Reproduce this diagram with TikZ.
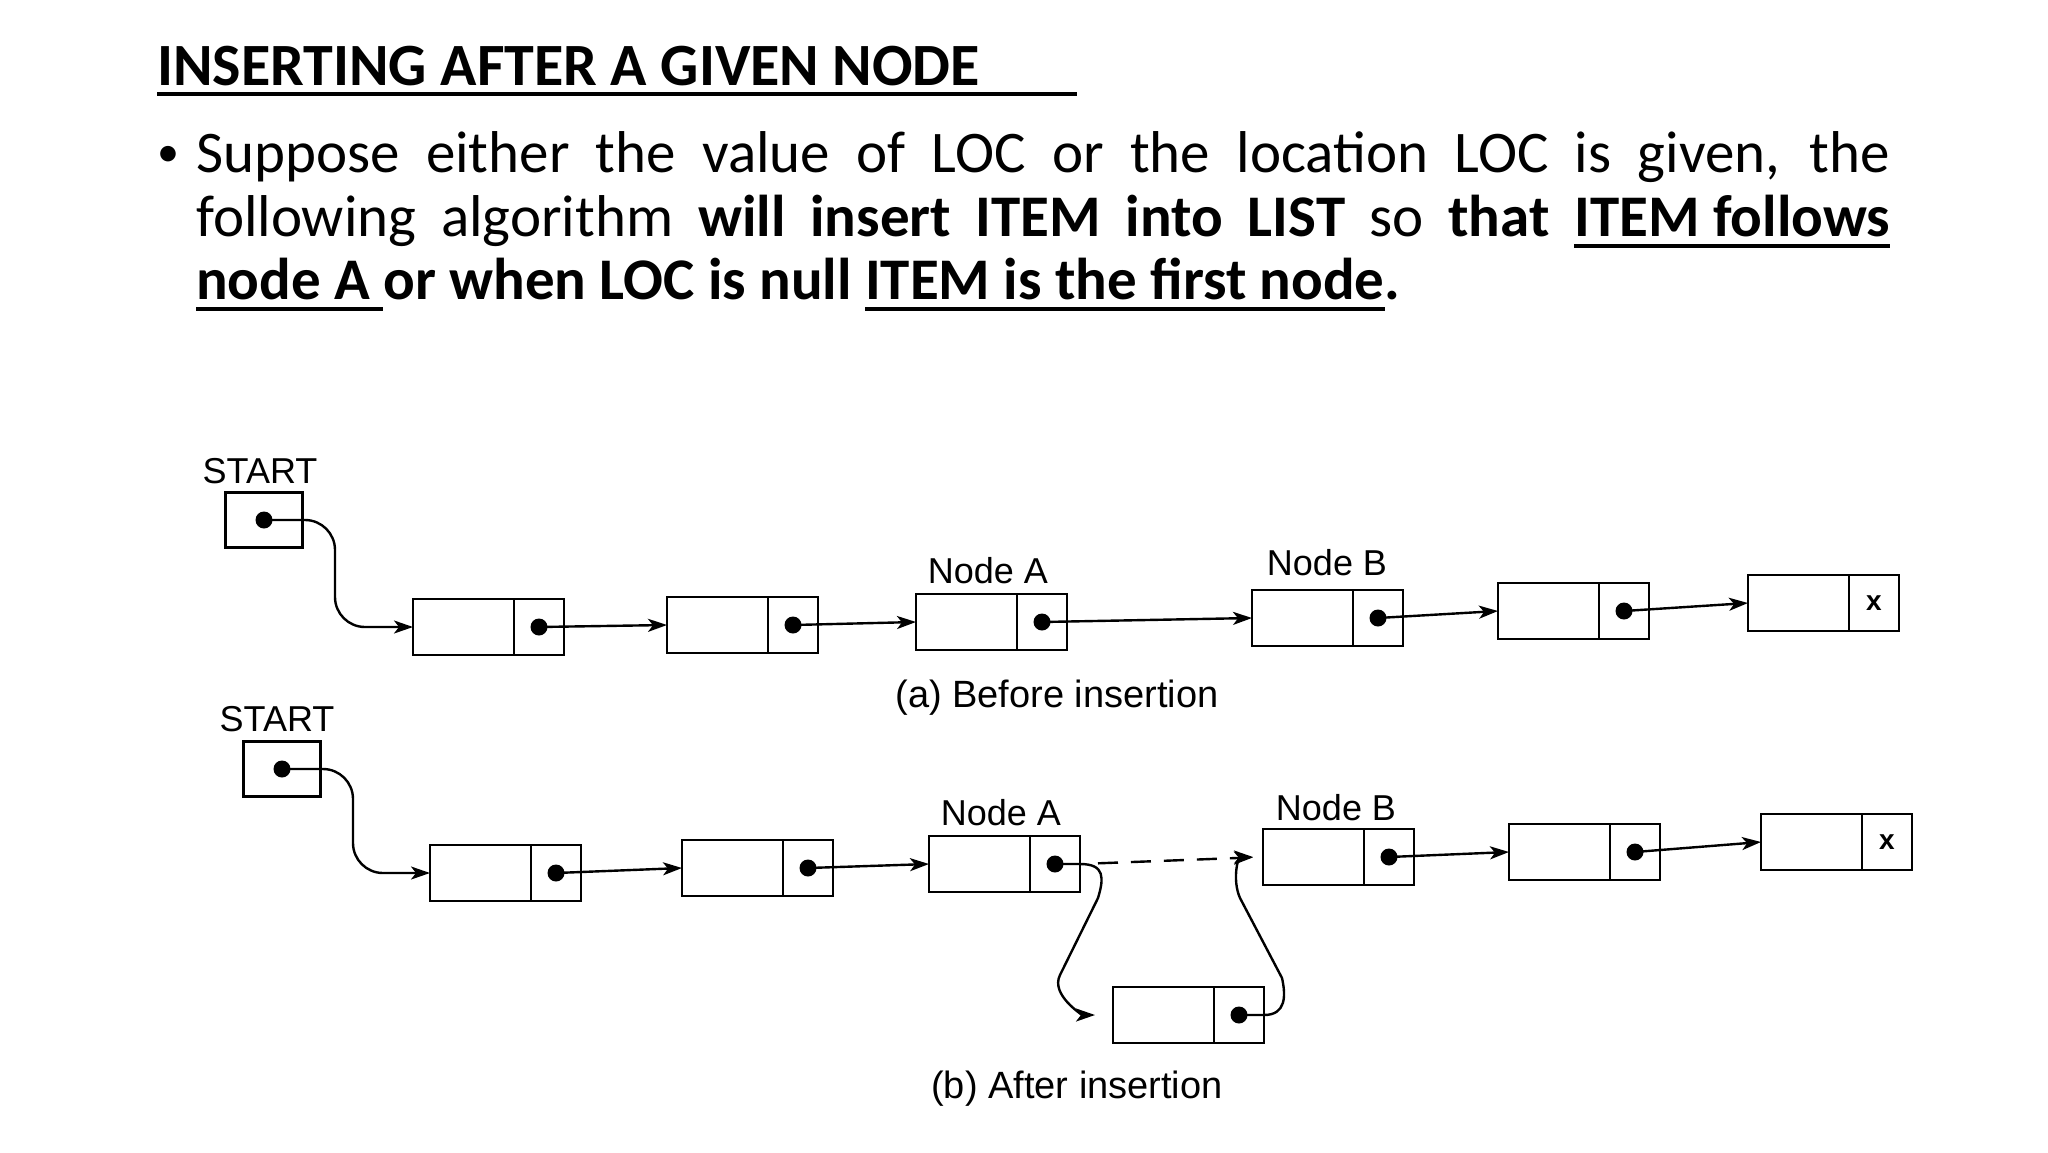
\documentclass[tikz,border=0pt]{standalone}
\usepackage{fontspec}
\setmainfont{Carlito}
\newfontfamily\diafont{Liberation Sans}
\usetikzlibrary{arrows.meta}
\newsavebox\ulbox
\newcommand\myul[1]{\sbox\ulbox{#1}\rlap{\rule[-11.5pt]{\wd\ulbox}{3.5pt}}\usebox\ulbox}
\newcommand\listnode[3]{%
  \node[databox] (#1) at (#2,#3) {};
  \node[ptrbox] (#1p) at (#1.east) {};}
\begin{document}
\begin{tikzpicture}[x=1pt,y=-1pt,
  databox/.style={draw, line width=2.9pt, minimum width=101pt, minimum height=56pt, inner sep=0pt, outer sep=0pt, anchor=west},
  ptrbox/.style={draw, line width=2.9pt, minimum width=50pt, minimum height=56pt, inner sep=0pt, outer sep=0pt, anchor=west},
  startbox/.style={draw, line width=2.9pt, minimum width=77pt, minimum height=55pt, inner sep=0pt, outer sep=0pt},
  dotn/.style={circle, fill=black, inner sep=0pt, minimum size=17pt},
  nullx/.style={font=\diafont\bfseries\fontsize{28}{28}\selectfont, inner sep=0pt},
  link/.style={line width=2.4pt, -{Stealth[length=19pt,width=13pt,inset=5pt]}},
  lbl/.style={font=\diafont\fontsize{36}{36}\selectfont, inner sep=0pt, anchor=base},
  captxt/.style={font=\diafont\fontsize{38}{38}\selectfont, inner sep=0pt, anchor=base},
  txt/.style={font=\fontsize{59}{59}\selectfont, inner sep=0pt, anchor=base west}
]
\fill[white] (0,0) rectangle (2048,1152);
\useasboundingbox (0,0) rectangle (2048,1152);

% ---- text ----
\node[txt, font=\bfseries\fontsize{60}{60}\selectfont] (title) at (157,85)
  {\rlap{\rule[-10.75pt]{920pt}{3.5pt}}INSERTING AFTER A GIVEN NODE};
\node[txt, anchor=base, font=\fontsize{44}{44}\selectfont] (bullet) at (168,166) {•};
\node[txt] (l1) at (196,172)
  {\hbox to 1694pt{Suppose either the value of LOC or the location LOC is given, the}};
\node[txt] (l2) at (196,236)
  {\hbox to 1694pt{following algorithm \textbf{will insert ITEM into LIST} so \textbf{that} \textbf{\myul{ITEM follows}}}};
\node[txt] (l3) at (196,299)
  {\textbf{\myul{node A }or when LOC is null \myul{ITEM is the first node}.}};

% ---- (a) before insertion ----
\node[lbl] (starta) at (260,483) {START};
\node[startbox] (s1) at (264,520) {};
\node[dotn] (s1d) at (s1.center) {};
\listnode{a1}{413}{627}
\listnode{a2}{667}{625}
\listnode{aA}{916}{622}
\listnode{aB}{1252}{618}
\listnode{a5}{1498}{611}
\listnode{a6}{1748}{603}
\foreach \n in {a1,a2,aA,aB,a5} {\node[dotn] (\n d) at (\n p.center) {};}
\node[nullx] (a6x) at (a6p.center) {x};
\node[lbl] (labAa) at (988,583) {Node A};
\node[lbl] (labBa) at (1327,575) {Node B};
\node[captxt] (capa) at (1057,707) {(a) Before insertion};

\draw[link, rounded corners=30pt] (s1d.center) -| ([xshift=-78pt]a1.west) -- (a1.west);
\draw[link] (a1d.center) -- (a2.west);
\draw[link] (a2d.center) -- (aA.west);
\draw[link] (aAd.center) -- (aB.west);
\draw[link] (aBd.center) -- (a5.west);
\draw[link] (a5d.center) -- (a6.west);

% ---- (b) after insertion ----
\node[lbl] (startb) at (277,731) {START};
\node[startbox] (s2) at (282,769) {};
\node[dotn] (s2d) at (s2.center) {};
\listnode{b1}{430}{873}
\listnode{b2}{682}{868}
\listnode{bA}{929}{864}
\listnode{bB}{1263}{857}
\listnode{b5}{1509}{852}
\listnode{b6}{1761}{842}
\listnode{bN}{1113}{1015}
\foreach \n in {b1,b2,bA,bB,b5,bN} {\node[dotn] (\n d) at (\n p.center) {};}
\node[nullx] (b6x) at (b6p.center) {x};
\node[lbl] (labAb) at (1001,825) {Node A};
\node[lbl] (labBb) at (1336,820) {Node B};
\node[captxt] (capb) at (1077,1098) {(b) After insertion};

\draw[link, rounded corners=30pt] (s2d.center) -| ([xshift=-77pt]b1.west) -- (b1.west);
\draw[link] (b1d.center) -- (b2.west);
\draw[link] (b2d.center) -- (bA.west);
\draw[link] (bBd.center) -- (b5.west);
\draw[link] (b5d.center) -- (b6.west);
\draw[link, dash pattern=on 20pt off 13pt, shorten <=18pt, shorten >=10pt] (bAp.east) -- (bB.west);
\draw[link, shorten >=18pt] (bAd.center) -- (bAp.east)
  .. controls +(25,0) and +(6,-20) .. (1098,898) -- (1060,975)
  .. controls +(-10,20) and +(-30,0) .. (bN.west);
\draw[link, shorten >=10pt] (bNd.center) -- (bNp.east)
  .. controls +(22,0) and +(4,18) .. (1282,978) -- (1240,898)
  .. controls +(-8,-18) and +(-25,0) .. (bB.west);
\end{tikzpicture}
\end{document}
